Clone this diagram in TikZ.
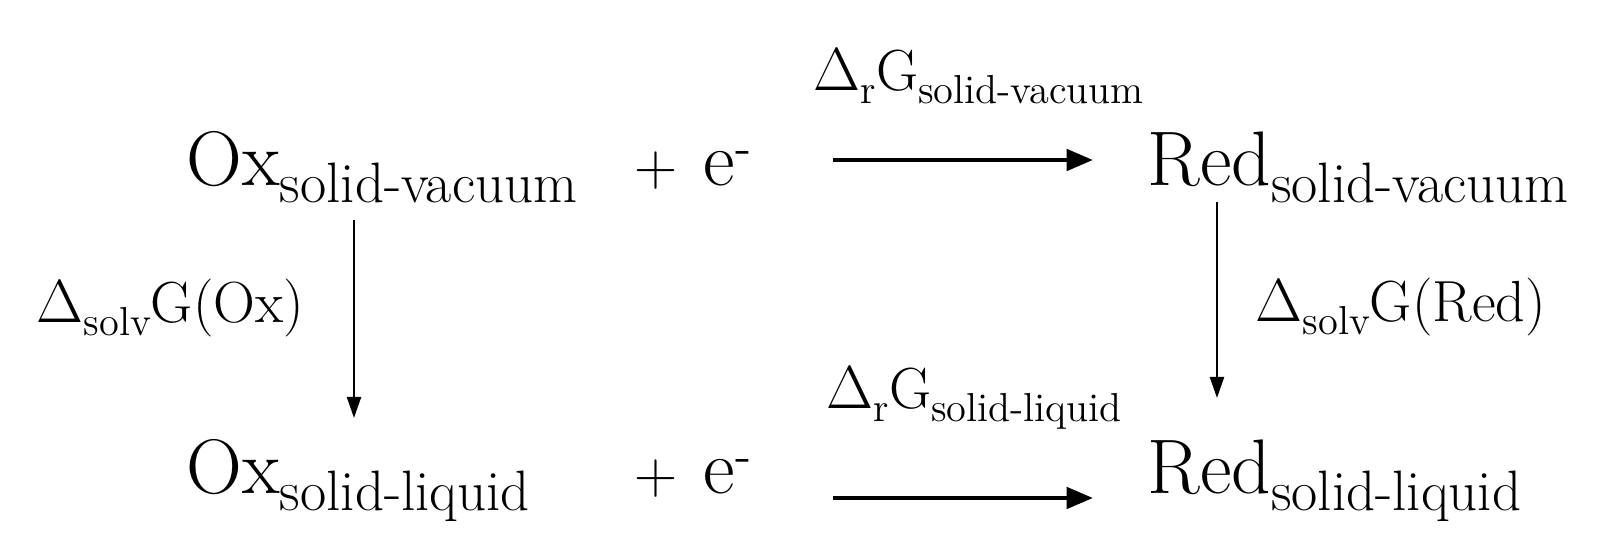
\documentclass[tikz,border=0pt]{standalone}
\usetikzlibrary{arrows.meta}
\newcommand\bsub[1]{\raisebox{-4.8pt}{\fontsize{16.2}{18}\selectfont #1}}
\newcommand\lsub[1]{\raisebox{-3.5pt}{\fontsize{11.5}{13}\selectfont #1}}
\newcommand\esup{\raisebox{6.3pt}{\fontsize{14}{16}\selectfont -}}
\tikzset{
  big/.style={anchor=base west, inner sep=0pt, font=\fontsize{22}{26}\selectfont},
  plus/.style={anchor=base, inner sep=0pt, font=\fontsize{17}{20}\selectfont},
  lab/.style={anchor=base west, inner sep=0pt, font=\fontsize{16.5}{20}\selectfont},
  rxn/.style={-{Triangle[length=7.5pt,width=6pt]}, line width=1.3pt},
  solv/.style={-{Triangle[length=6pt,width=4pt]}, line width=0.6pt},
}
\begin{document}
\begin{tikzpicture}[x=0.01cm, y=-0.01cm]
\useasboundingbox (0,0) rectangle (1620,540);
% top row
\node[big] (oxv) at (186,186) {Ox\bsub{solid-vacuum}};
\node[plus] (p1) at (656,186) {+};
\node[big] (e1) at (703,186) {e\esup};
\node[big] (redv) at (1147,186) {Red\bsub{solid-vacuum}};
% bottom row
\node[big] (oxl) at (186,494) {Ox\bsub{solid-liquid}};
\node[plus] (p2) at (656,494) {+};
\node[big] (e2) at (703,494) {e\esup};
\node[big] (redl) at (1147,494) {Red\bsub{solid-liquid}};
% labels
\node[lab] (gv) at (813,91) {$\Delta$\lsub{r}G\lsub{solid-vacuum}};
\node[lab] (gl) at (826,409) {$\Delta$\lsub{r}G\lsub{solid-liquid}};
\node[lab] (gox) at (36,323) {$\Delta$\lsub{solv}G(Ox)};
\node[lab] (gred) at (1255,322) {$\Delta$\lsub{solv}G(Red)};
% arrow end points
\coordinate (t1) at (833,160); \coordinate (t2) at (1093,160);
\coordinate (b1) at (833,498); \coordinate (b2) at (1093,498);
\coordinate (l1) at (354,220); \coordinate (l2) at (354,418);
\coordinate (r1) at (1217,202); \coordinate (r2) at (1217,398);
\draw[rxn] (t1) -- (t2);
\draw[rxn] (b1) -- (b2);
\draw[solv] (l1) -- (l2);
\draw[solv] (r1) -- (r2);
\end{tikzpicture}
\end{document}
